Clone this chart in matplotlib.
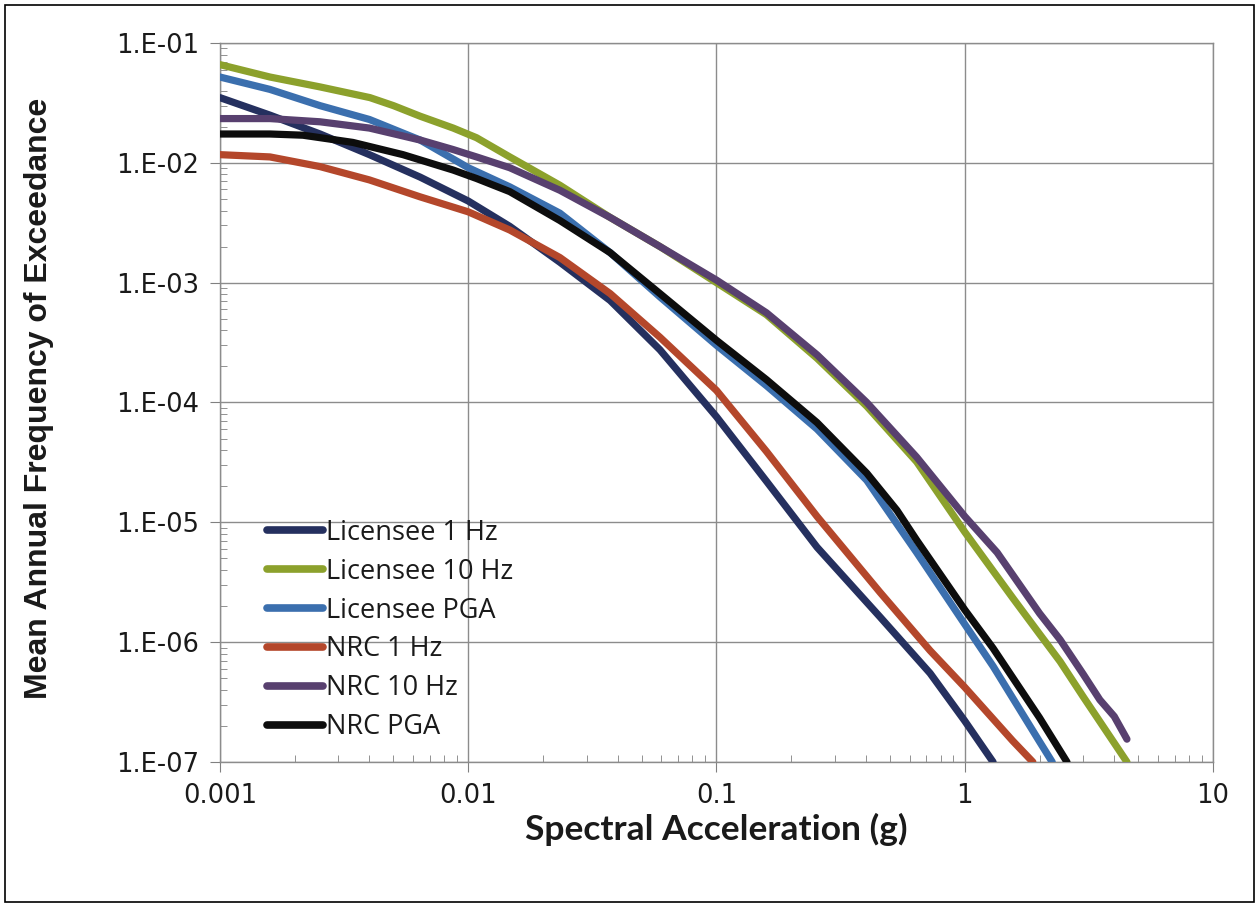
import math
import matplotlib
matplotlib.use("Agg")
import matplotlib.pyplot as plt
from matplotlib.ticker import FixedLocator, FuncFormatter, LogLocator, NullFormatter
from matplotlib.patches import Rectangle

plt.rcParams["font.family"] = ["Open Sans", "DejaVu Sans"]

series_names = ["Licensee 1 Hz", "Licensee 10 Hz", "Licensee PGA",
                "NRC 1 Hz", "NRC 10 Hz", "NRC PGA"]
series_colors = ["#25305f", "#8ca12c", "#3b6fae", "#b4472b", "#58406f", "#0d0d0d"]

# values (spectral acceleration g, annual frequency)
lic_1hz_x = [0.001, 0.00159, 0.00253, 0.004, 0.0064, 0.01, 0.0147, 0.0234, 0.0373,
             0.0592, 0.1, 0.159, 0.254, 0.456, 0.725, 1.0, 1.3]
lic_1hz_y = [3.5e-2, 2.5e-2, 1.74e-2, 1.17e-2, 7.6e-3, 4.8e-3, 2.95e-3, 1.48e-3, 7.1e-4,
             2.75e-4, 7.6e-5, 2.2e-5, 6.2e-6, 1.62e-6, 5.5e-7, 2.2e-7, 1.0e-7]

lic_10hz_x = [0.001, 0.00159, 0.00253, 0.00402, 0.005, 0.0064, 0.0087, 0.0108, 0.0147,
              0.0234, 0.0373, 0.0592, 0.1, 0.159, 0.254, 0.403, 0.64, 1.0, 1.56, 2.0,
              2.42, 3.0, 4.5]
lic_10hz_y = [6.6e-2, 5.2e-2, 4.3e-2, 3.5e-2, 3.0e-2, 2.45e-2, 1.95e-2, 1.62e-2, 1.12e-2,
              6.5e-3, 3.5e-3, 2.0e-3, 1.0e-3, 5.4e-4, 2.34e-4, 9.3e-5, 3.2e-5, 8.3e-6,
              2.34e-6, 1.17e-6, 6.9e-7, 3.5e-7, 1.0e-7]

lic_pga_x = [0.001, 0.00159, 0.00253, 0.004, 0.0064, 0.01, 0.0147, 0.0234, 0.0373,
             0.0592, 0.1, 0.159, 0.254, 0.403, 0.64, 1.0, 1.3, 2.0, 2.25]
lic_pga_y = [5.2e-2, 4.1e-2, 3.0e-2, 2.3e-2, 1.55e-2, 9.1e-3, 6.3e-3, 3.8e-3, 1.78e-3,
             7.6e-4, 3.0e-4, 1.38e-4, 6.0e-5, 2.24e-5, 5.6e-6, 1.41e-6, 6.3e-7,
             1.48e-7, 1.0e-7]

nrc_1hz_x = [0.001, 0.00159, 0.00253, 0.004, 0.0064, 0.01, 0.0147, 0.0234, 0.0373,
             0.0592, 0.1, 0.159, 0.254, 0.456, 0.725, 1.0, 1.56, 1.88]
nrc_1hz_y = [1.17e-2, 1.12e-2, 9.3e-3, 7.2e-3, 5.2e-3, 3.9e-3, 2.75e-3, 1.62e-3, 8.1e-4,
             3.5e-4, 1.26e-4, 3.9e-5, 1.12e-5, 2.6e-6, 8.5e-7, 4.2e-7, 1.5e-7, 1.0e-7]

nrc_10hz_x = [0.001, 0.00159, 0.00253, 0.004, 0.0064, 0.0087, 0.0108, 0.0147, 0.0234,
              0.0373, 0.0592, 0.1, 0.159, 0.254, 0.403, 0.64, 1.0, 1.35, 2.0, 2.42,
              3.0, 3.5, 4.0, 4.5]
nrc_10hz_y = [2.34e-2, 2.34e-2, 2.2e-2, 1.95e-2, 1.55e-2, 1.29e-2, 1.12e-2, 9.1e-3,
              5.9e-3, 3.5e-3, 2.0e-3, 1.05e-3, 5.6e-4, 2.5e-4, 1.0e-4, 3.5e-5, 1.12e-5,
              5.6e-6, 1.74e-6, 1.05e-6, 5.4e-7, 3.3e-7, 2.4e-7, 1.55e-7]

nrc_pga_x = [0.001, 0.00159, 0.00216, 0.00343, 0.00546, 0.0087, 0.0108, 0.0147, 0.0234,
             0.0373, 0.0592, 0.1, 0.159, 0.254, 0.403, 0.533, 0.64, 1.0, 1.3, 2.0, 2.58]
nrc_pga_y = [1.74e-2, 1.74e-2, 1.7e-2, 1.48e-2, 1.17e-2, 8.7e-3, 7.4e-3, 5.75e-3, 3.3e-3,
             1.78e-3, 8.1e-4, 3.3e-4, 1.55e-4, 6.8e-5, 2.57e-5, 1.26e-5, 7.1e-6, 1.86e-6,
             8.9e-7, 2.34e-7, 1.0e-7]

x_ticks = [0.001, 0.01, 0.1, 1, 10]
x_tick_labels = ["0.001", "0.01", "0.1", "1", "10"]
y_ticks = [1e-7, 1e-6, 1e-5, 1e-4, 1e-3, 1e-2, 1e-1]


def y_label(v, pos):
    exp = int(round(math.log10(v)))
    return "1.E-%02d" % (-exp)


def main():
    fig = plt.figure(figsize=(12.59, 9.07), dpi=100)
    fig.patches.append(Rectangle((0.004, 0.006), 0.992, 0.988, transform=fig.transFigure,
                                 fill=False, edgecolor="black", linewidth=1.2))
    ax = fig.add_axes([0.1747, 0.1599, 0.9635 - 0.1747, 0.9526 - 0.1599])

    all_x = [lic_1hz_x, lic_10hz_x, lic_pga_x, nrc_1hz_x, nrc_10hz_x, nrc_pga_x]
    all_y = [lic_1hz_y, lic_10hz_y, lic_pga_y, nrc_1hz_y, nrc_10hz_y, nrc_pga_y]
    for xs, ys, name, col in zip(all_x, all_y, series_names, series_colors):
        ax.plot(xs, ys, color=col, linewidth=5.2, label=name,
                solid_capstyle="round", solid_joinstyle="round", zorder=3)

    ax.set_xscale("log")
    ax.set_yscale("log")
    ax.set_xlim(0.001, 10)
    ax.set_ylim(1e-7, 1e-1)

    ax.xaxis.set_major_locator(FixedLocator(x_ticks))
    ax.set_xticklabels(x_tick_labels)
    ax.yaxis.set_major_locator(FixedLocator(y_ticks))
    ax.yaxis.set_major_formatter(FuncFormatter(y_label))
    ax.xaxis.set_minor_locator(LogLocator(base=10, subs=range(2, 10)))
    ax.yaxis.set_minor_locator(LogLocator(base=10, subs=range(2, 10)))
    ax.xaxis.set_minor_formatter(NullFormatter())
    ax.yaxis.set_minor_formatter(NullFormatter())

    ax.tick_params(which="major", direction="out", length=7, color="#808080",
                   labelsize=18.5, labelcolor="#1a1a1a")
    ax.tick_params(axis="x", which="major", pad=8)
    ax.tick_params(axis="y", which="major", pad=8)
    ax.tick_params(which="minor", direction="in", length=5, color="#808080")
    for lbl in ax.get_xticklabels() + ax.get_yticklabels():
        lbl.set_family(["DejaVu Sans"])
    ax.grid(True, which="major", color="#8c8c8c", linewidth=1.0, zorder=0)
    for sp in ax.spines.values():
        sp.set_color("#8c8c8c")
        sp.set_linewidth(1.0)

    fig.text(716 / 1259, 1 - 829 / 907, "Spectral Acceleration (g)", fontsize=25.5,
             fontweight="bold", family=["Lato", "DejaVu Sans"], ha="center", va="center",
             color="#1a1a1a")
    fig.text(39 / 1259, 1 - 398 / 907, "Mean Annual Frequency of Exceedance",
             fontsize=23, fontweight="bold", family=["Liberation Sans", "DejaVu Sans"],
             rotation=90, ha="center", va="center", color="#1a1a1a")

    leg = ax.legend(loc="upper left", bbox_to_anchor=(0.047, 0.338), frameon=False,
                    fontsize=19.5, handlelength=2.1, handletextpad=0.1,
                    labelspacing=0.40, borderaxespad=0, borderpad=0)
    for line in leg.get_lines():
        line.set_linewidth(5.5)
    for t in leg.get_texts():
        t.set_color("#1a1a1a")

    fig.savefig("out.png", dpi=100)


if __name__ == "__main__":
    main()
